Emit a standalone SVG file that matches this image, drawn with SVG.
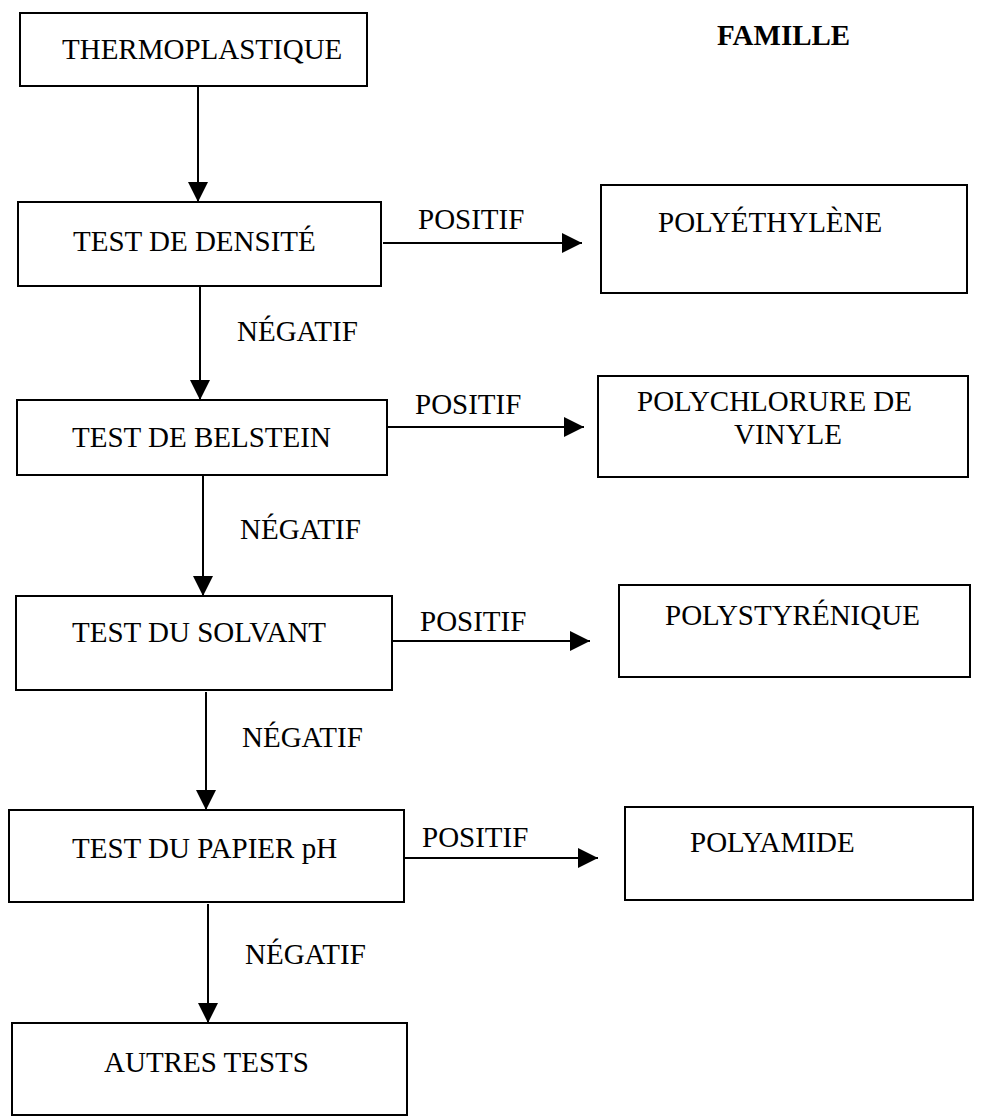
<svg xmlns="http://www.w3.org/2000/svg" width="982" height="1116" viewBox="0 0 982 1116">
<defs>
<marker id="ah" markerUnits="userSpaceOnUse" markerWidth="20" markerHeight="20" refX="20" refY="10" orient="auto">
<path d="M0,0 L20,10 L0,20 Z" fill="#000"/>
</marker>
<style>
.n rect{fill:#fff;stroke:#000;stroke-width:2}
text{font-family:"Liberation Serif","Times New Roman",serif;font-size:29px;fill:#000}
.b{font-weight:bold}
.c line{stroke:#000;stroke-width:2;marker-end:url(#ah)}
</style>
</defs>
<rect x="0" y="0" width="982" height="1116" fill="#fff"/>
<text class="b" x="717" y="45">FAMILLE</text>
<g class="c" id="connectors">
<line x1="198" y1="86" x2="198" y2="202"/>
<line x1="200" y1="286" x2="200" y2="400"/>
<line x1="203" y1="475" x2="203" y2="596"/>
<line x1="206" y1="692" x2="206" y2="810"/>
<line x1="208" y1="904" x2="208" y2="1023"/>
<line x1="383" y1="243" x2="582" y2="243"/>
<line x1="387" y1="427" x2="584" y2="427"/>
<line x1="392" y1="641" x2="590" y2="641"/>
<line x1="404" y1="858" x2="598" y2="858"/>
</g>
<g id="labels">
<text x="418" y="229">POSITIF</text>
<text x="415" y="414">POSITIF</text>
<text x="420" y="631">POSITIF</text>
<text x="422" y="847">POSITIF</text>
<text x="237" y="341">NÉGATIF</text>
<text x="240" y="539">NÉGATIF</text>
<text x="242" y="747">NÉGATIF</text>
<text x="245" y="964">NÉGATIF</text>
</g>
<g class="n" id="thermo"><rect x="20" y="13" width="347" height="73"/><text x="62" y="59">THERMOPLASTIQUE</text></g>
<g class="n" id="densite"><rect x="18" y="202" width="363" height="84"/><text x="73" y="251">TEST DE DENSITÉ</text></g>
<g class="n" id="belstein"><rect x="17" y="400" width="370" height="75"/><text x="72" y="447">TEST DE BELSTEIN</text></g>
<g class="n" id="solvant"><rect x="16" y="596" width="376" height="94"/><text x="72" y="642">TEST DU SOLVANT</text></g>
<g class="n" id="papier"><rect x="9" y="810" width="395" height="92"/><text x="72" y="858">TEST DU PAPIER pH</text></g>
<g class="n" id="autres"><rect x="12" y="1023" width="395" height="92"/><text x="104" y="1072">AUTRES TESTS</text></g>
<g class="n" id="polyethylene"><rect x="601" y="185" width="366" height="108"/><text x="658" y="232">POLYÉTHYLÈNE</text></g>
<g class="n" id="pvc"><rect x="598" y="376" width="370" height="101"/><text x="637" y="411">POLYCHLORURE DE</text><text x="734" y="444">VINYLE</text></g>
<g class="n" id="polystyrene"><rect x="619" y="585" width="351" height="92"/><text x="665" y="625">POLYSTYRÉNIQUE</text></g>
<g class="n" id="polyamide"><rect x="625" y="807" width="348" height="93"/><text x="690" y="852">POLYAMIDE</text></g>
</svg>
